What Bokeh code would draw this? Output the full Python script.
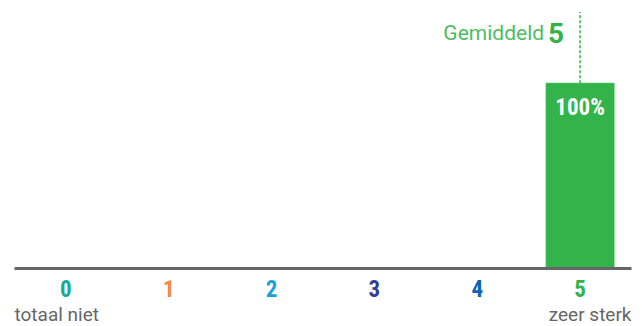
from bokeh.plotting import figure
from bokeh.models import ColumnDataSource, Range1d
from bokeh.core.properties import value
from bokeh.embed import file_html
from bokeh.resources import INLINE

# ---- data ----
scores = [0, 1, 2, 3, 4, 5]
score_labels = ["0", "1", "2", "3", "4", "5"]
percentages = [0, 0, 0, 0, 0, 100]
label_colors = ["#17a99b", "#f68b3b", "#1a9fe0", "#2f3e97", "#0d63b6", "#33b44a"]
bar_color = "#33b44a"
average = 5
average_label = "Gemiddeld"
left_end_label = "totaal niet"
right_end_label = "zeer sterk"

p = figure(width=642, height=326, output_backend="svg", toolbar_location=None,
           min_border=0, min_border_left=0, min_border_right=0,
           min_border_top=0, min_border_bottom=0,
           x_range=Range1d(-0.636, 5.607), y_range=Range1d(-31.3, 144.7))
p.axis.visible = False
p.grid.visible = False
p.outline_line_color = None
p.background_fill_color = "white"
p.border_fill_color = "white"

# bars (only non-zero visible)
bar_src = ColumnDataSource(dict(
    x=[s for s, v in zip(scores, percentages) if v > 0],
    top=[v for v in percentages if v > 0],
    lab=[f"{v}%" for v in percentages if v > 0],
))
p.vbar(x="x", top="top", bottom=0, width=0.66, color=bar_color, source=bar_src)
p.text(x="x", y="top", text="lab", source=bar_src, text_color="white",
       text_font=value("Roboto Condensed"), text_font_style="bold", text_font_size="23px",
       text_align="center", text_baseline="middle", y_offset=24)

# baseline
p.segment(x0=[scores[0] - 0.5], y0=[0], x1=[scores[-1] + 0.5], y1=[0],
          line_color="#666666", line_width=3)

# average marker
top_val = max(percentages)
p.segment(x0=[average], y0=[top_val], x1=[average], y1=[138.5],
          line_color="#5cc46c", line_width=2, line_dash="3 2")
p.text(x=[average], y=[top_val], text=[average_label], text_color="#4dbd5f",
       text_font=value("Roboto"), text_font_style="normal", text_font_size="21px",
       text_align="right", text_baseline="alphabetic", x_offset=-36, y_offset=-50)
p.text(x=[average], y=[top_val], text=[str(average)], text_color=bar_color,
       text_font=value("Roboto"), text_font_style="bold", text_font_size="28px",
       text_align="right", text_baseline="alphabetic", x_offset=-16, y_offset=-50)

# category labels
lab_src = ColumnDataSource(dict(x=scores, y=[0] * len(scores), t=score_labels, c=label_colors))
p.text(x="x", y="y", text="t", text_color="c", source=lab_src,
       text_font=value("Roboto Condensed"), text_font_style="bold", text_font_size="23px",
       text_align="center", text_baseline="middle", y_offset=20)

# end labels
p.text(x=[scores[0] - 0.5], y=[0], text=[left_end_label], text_color="#666666",
       text_font=value("Roboto"), text_font_size="19px",
       text_align="left", text_baseline="middle", y_offset=46)
p.text(x=[scores[-1] + 0.5], y=[0], text=[right_end_label], text_color="#666666",
       text_font=value("Roboto"), text_font_size="19px",
       text_align="right", text_baseline="middle", y_offset=46)

open("out.html", "w").write(file_html(p, INLINE))
